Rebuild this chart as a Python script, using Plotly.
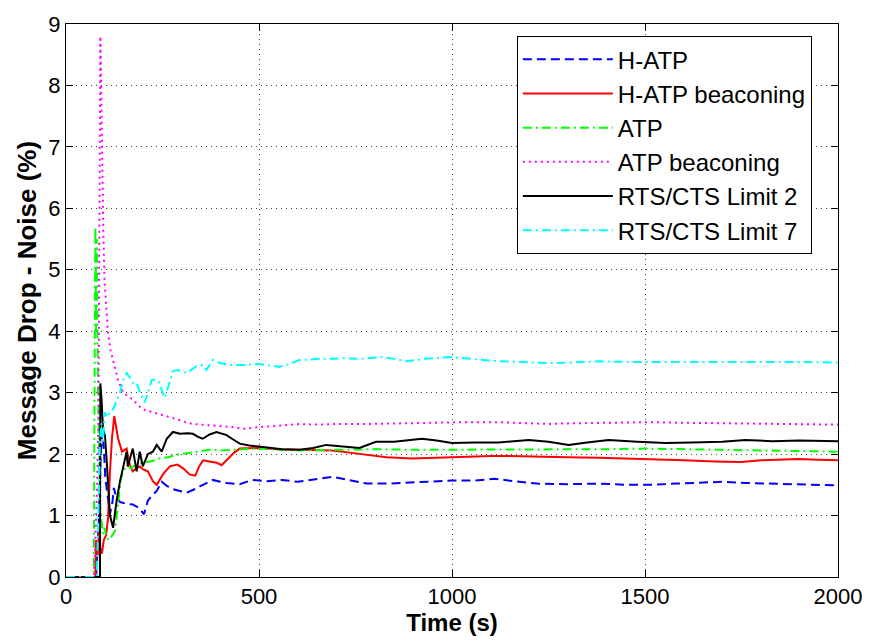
import plotly.graph_objects as go

# ---------------- data ----------------
hatp_t = [0, 78, 85, 90, 94, 98, 102, 108, 114, 120, 124, 130, 140, 157, 173, 190, 202, 212, 222, 235, 248,
          262, 277, 295, 312, 330, 346, 365, 380, 400, 416, 450, 483, 520, 560, 600, 650, 690, 730, 780, 837,
          900, 950, 1000, 1060, 1110, 1160, 1220, 1300, 1380, 1450, 1520, 1580, 1640, 1700, 1760, 1820, 1880,
          1940, 2000]
hatp_v = [0, 0, 0.9, 2.0, 2.35, 2.1, 1.6, 1.3, 1.03, 1.2, 1.45, 1.3, 1.22, 1.19, 1.18, 1.12, 1.02, 1.24, 1.32,
          1.4, 1.55, 1.48, 1.43, 1.4, 1.37, 1.42, 1.47, 1.52, 1.58, 1.55, 1.53, 1.51, 1.58, 1.56, 1.58, 1.55,
          1.6, 1.63, 1.58, 1.52, 1.52, 1.54, 1.55, 1.57, 1.57, 1.6, 1.56, 1.52, 1.51, 1.52, 1.5, 1.5, 1.52,
          1.54, 1.55, 1.53, 1.52, 1.5, 1.49, 1.49]

hatpb_t = [0, 76, 78, 82, 86, 89, 93, 98, 104, 109, 114, 119, 125, 130, 135, 145, 157, 165, 173, 182, 191,
           200, 212, 225, 235, 251, 269, 289, 305, 320, 335, 345, 355, 372, 390, 403, 420, 435, 450, 475, 501,
           550, 600, 650, 690, 740, 777, 830, 897, 950, 1000, 1050, 1103, 1150, 1200, 1250, 1300, 1380, 1450,
           1520, 1600, 1682, 1750, 1800, 1897, 1950, 2000]
hatpb_v = [0, 0, 0.6, 0.35, 0.8, 0.45, 0.38, 0.6, 0.68, 0.97, 1.72, 2.25, 2.62, 2.4, 2.25, 2.04, 2.09, 1.83,
           1.72, 1.77, 1.8, 1.75, 1.72, 1.56, 1.5, 1.67, 1.8, 1.83, 1.76, 1.67, 1.65, 1.8, 1.9, 1.88, 1.86,
           1.82, 1.92, 2.02, 2.09, 2.1, 2.1, 2.08, 2.07, 2.06, 2.06, 2.02, 1.99, 1.95, 1.93, 1.94, 1.96, 1.96,
           1.97, 1.97, 1.96, 1.95, 1.95, 1.94, 1.93, 1.91, 1.9, 1.88, 1.87, 1.9, 1.92, 1.91, 1.9]

atp_t = [0, 72, 74, 76, 78, 80, 82, 85, 88, 92, 96, 100, 105, 112, 120, 127, 135, 142, 150, 160, 168, 180,
         191, 205, 217, 230, 243, 265, 286, 320, 350, 372, 400, 450, 501, 550, 600, 700, 800, 900, 1000, 1100,
         1200, 1300, 1400, 1500, 1600, 1700, 1800, 1900, 2000]
atp_v = [0, 0, 3.0, 5.7, 4.0, 5.5, 3.5, 2.0, 1.2, 0.9, 0.7, 0.8, 0.64, 0.6, 0.68, 0.75, 1.2, 1.6, 1.75, 1.8,
         1.77, 1.82, 1.85, 1.86, 1.88, 1.9, 1.93, 1.95, 1.99, 2.02, 2.05, 2.07, 2.06, 2.07, 2.09, 2.07, 2.06,
         2.07, 2.08, 2.07, 2.07, 2.08, 2.07, 2.08, 2.08, 2.09, 2.08, 2.07, 2.07, 2.05, 2.04]

atpb_t = [0, 72, 76, 80, 84, 87, 89, 91, 93, 95, 97, 100, 104, 109, 115, 122, 128, 135, 148, 160, 173, 186,
          199, 220, 243, 265, 286, 310, 329, 350, 372, 400, 430, 458, 483, 501, 550, 605, 650, 700, 777, 850,
          950, 1035, 1120, 1200, 1250, 1300, 1400, 1509, 1600, 1700, 1800, 1900, 2000]
atpb_v = [0, 0, 0.6, 1.3, 2.5, 6.0, 8.8, 8.0, 7.0, 6.2, 5.5, 4.8, 4.4, 3.96, 3.7, 3.53, 3.35, 3.2, 3.0, 2.95,
          2.89, 2.8, 2.73, 2.69, 2.65, 2.6, 2.57, 2.52, 2.49, 2.48, 2.47, 2.45, 2.44, 2.41, 2.43, 2.44, 2.46,
          2.49, 2.48, 2.49, 2.49, 2.5, 2.51, 2.52, 2.52, 2.5, 2.49, 2.5, 2.51, 2.52, 2.51, 2.5, 2.5, 2.49, 2.48]

rts2_t = [0, 88, 89, 92, 96, 101, 105, 109, 114, 122, 127, 131, 140, 148, 157, 160, 166, 173, 183, 191, 199,
          212, 225, 235, 248, 261, 277, 295, 315, 329, 342, 354, 372, 390, 405, 416, 430, 450, 475, 501, 530,
          560, 605, 640, 674, 720, 760, 803, 850, 880, 922, 960, 1000, 1060, 1121, 1160, 1199, 1250, 1302,
          1350, 1406, 1480, 1553, 1620, 1700, 1760, 1830, 1900, 2000]
rts2_v = [0, 0, 3.15, 2.9, 2.4, 2.3, 1.93, 1.45, 1.0, 0.8, 1.1, 1.24, 1.56, 1.77, 2.04, 1.8, 1.95, 2.09, 1.72,
          2.04, 1.8, 2.0, 2.04, 2.15, 2.04, 2.25, 2.36, 2.33, 2.34, 2.33, 2.28, 2.25, 2.32, 2.36, 2.33, 2.31,
          2.25, 2.17, 2.14, 2.12, 2.1, 2.08, 2.07, 2.1, 2.15, 2.12, 2.1, 2.2, 2.2, 2.22, 2.25, 2.22, 2.18, 2.19,
          2.19, 2.21, 2.23, 2.2, 2.15, 2.19, 2.23, 2.2, 2.18, 2.19, 2.2, 2.23, 2.21, 2.22, 2.21]

rts7_t = [0, 80, 83, 86, 88, 92, 96, 100, 108, 115, 122, 130, 140, 148, 157, 165, 175, 183, 192, 204, 212,
          222, 232, 243, 250, 256, 265, 277, 286, 300, 312, 329, 338, 354, 364, 380, 400, 424, 450, 467, 493,
          520, 553, 580, 605, 630, 656, 690, 716, 760, 819, 850, 881, 930, 992, 1050, 1121, 1180, 1250, 1300,
          1380, 1450, 1520, 1600, 1700, 1800, 1900, 2000]
rts7_v = [0, 0, 0.8, 1.6, 2.2, 2.5, 2.2, 2.68, 2.6, 2.7, 2.73, 2.85, 3.0, 3.2, 3.32, 3.25, 3.15, 3.16, 3.0,
          2.84, 3.0, 3.2, 3.22, 3.16, 3.0, 2.92, 3.1, 3.35, 3.37, 3.35, 3.32, 3.4, 3.43, 3.45, 3.37, 3.53, 3.48,
          3.45, 3.45, 3.45, 3.47, 3.45, 3.42, 3.47, 3.53, 3.54, 3.55, 3.55, 3.56, 3.55, 3.58, 3.55, 3.51, 3.55,
          3.58, 3.55, 3.51, 3.5, 3.48, 3.49, 3.51, 3.5, 3.5, 3.51, 3.51, 3.5, 3.5, 3.49]

series_names = ["H-ATP", "H-ATP beaconing", "ATP", "ATP beaconing", "RTS/CTS Limit 2", "RTS/CTS Limit 7"]
x_ticks = [0, 500, 1000, 1500, 2000]
y_ticks = [0, 1, 2, 3, 4, 5, 6, 7, 8, 9]

# ---------------- figure ----------------
FONT = "Liberation Sans, Arial, Helvetica, sans-serif"
styles = [
    ("#0000ff", "9px,5px"),
    ("#ff0000", "solid"),
    ("#00ff00", "9px,4px,2px,4px"),
    ("#ff00ff", "2px,4px"),
    ("#000000", "solid"),
    ("#00ffff", "9px,4px,2px,4px"),
]
data = [(hatp_t, hatp_v), (hatpb_t, hatpb_v), (atp_t, atp_v), (atpb_t, atpb_v),
        (rts2_t, rts2_v), (rts7_t, rts7_v)]

fig = go.Figure()
for i, ((t, v), name, (col, dash)) in enumerate(zip(data, series_names, styles)):
    fig.add_trace(go.Scatter(
        x=t, y=v, mode="lines", name=name, legendgroup=f"g{i}",
        line=dict(color=col, dash=dash, width=2),
    ))

axis_common = dict(
    showline=True, linecolor="#000000", linewidth=1, mirror="ticks",
    ticks="inside", ticklen=7, tickcolor="#000000", tickwidth=1,
    showgrid=True, gridcolor="#444444", griddash="1px,4px", gridwidth=1,
    zeroline=False, tickfont=dict(family=FONT, size=22, color="#000000"),
)

fig.update_layout(
    width=874, height=643,
    margin=dict(l=66, r=34, t=16, b=66),
    paper_bgcolor="#ffffff", plot_bgcolor="#ffffff",
    font=dict(family=FONT, color="#000000"),
    showlegend=True,
    legend=dict(
        x=0.584, y=0.978, xanchor="left", yanchor="top",
        bgcolor="#ffffff", bordercolor="#000000", borderwidth=1,
        font=dict(family=FONT, size=24, color="#000000"),
        tracegroupgap=0, itemwidth=90,
    ),
    xaxis=dict(range=[0, 2000], tickvals=x_ticks, ticktext=[str(v) for v in x_ticks],
               title=dict(text="<b>Time (s)</b>", font=dict(family=FONT, size=24), standoff=4),
               **axis_common),
    yaxis=dict(range=[0, 9], tickvals=y_ticks, ticktext=[str(v) for v in y_ticks],
               title=dict(text="<b>Message Drop - Noise (%)</b>", font=dict(family=FONT, size=26), standoff=4),
               **axis_common),
)

fig.write_html("out.html")
